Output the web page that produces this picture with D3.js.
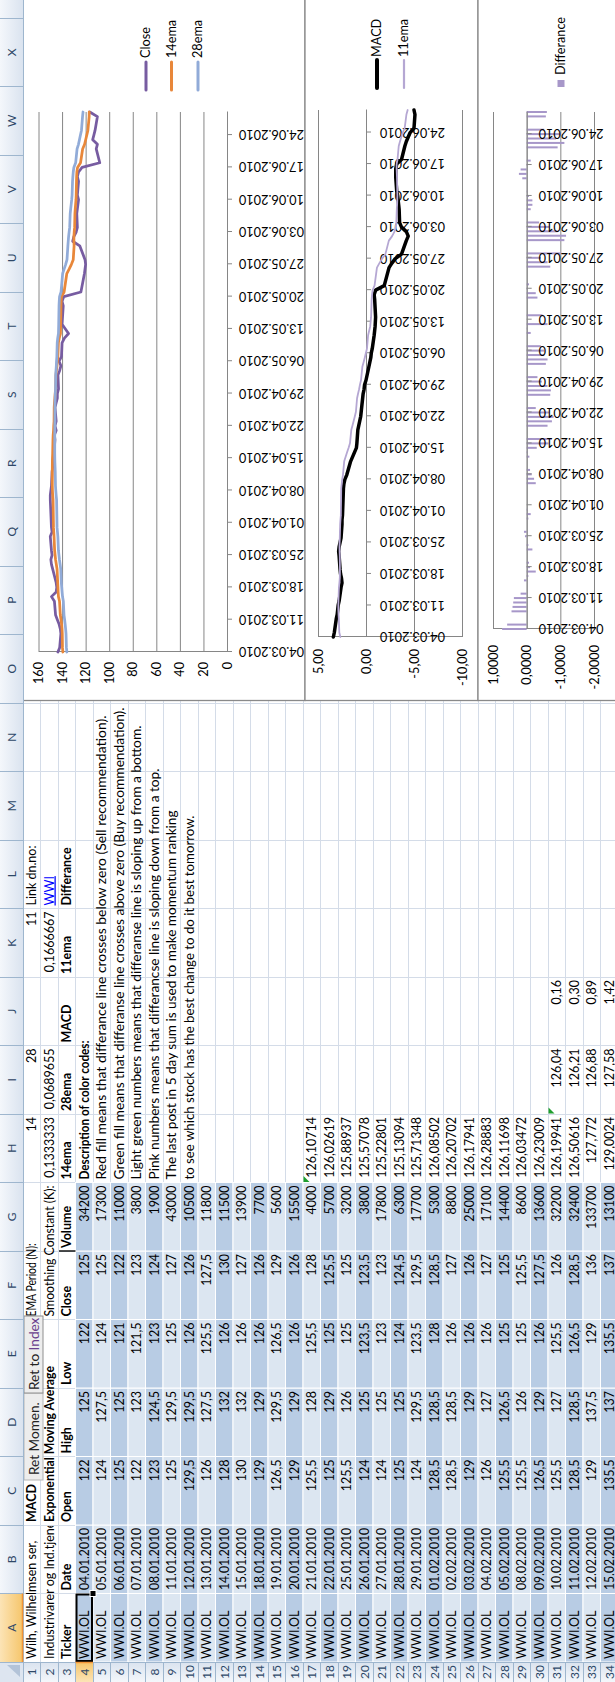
<!DOCTYPE html>
<html>
<head>
<meta charset="utf-8">
<title>WWI.OL – MACD</title>
<script src="https://cdn.jsdelivr.net/npm/d3@7"></script>
<style>
  html, body { margin: 0; padding: 0; background: #fff; }
  svg { display: block; }
  text { font-family: Lato, "Open Sans", "DejaVu Sans", sans-serif; }
</style>
</head>
<body>
<svg id="sheet" width="615" height="1682"></svg>
<script>
// ---------- worksheet contents ----------
const columnLetters = ["A","B","C","D","E","F","G","H","I","J","K","L","M","N","O","P","Q","R","S","T","U","V","W","X"];
const rowNumbers = d3.range(1, 35);
const tickerSymbol = "WWI.OL";
const tableDates = ["04.01.2010","05.01.2010","06.01.2010","07.01.2010","08.01.2010","11.01.2010","12.01.2010","13.01.2010","14.01.2010","15.01.2010","18.01.2010","19.01.2010","20.01.2010","21.01.2010","22.01.2010","25.01.2010","26.01.2010","27.01.2010","28.01.2010","29.01.2010","01.02.2010","02.02.2010","03.02.2010","04.02.2010","05.02.2010","08.02.2010","09.02.2010","10.02.2010","11.02.2010","12.02.2010","15.02.2010"];
const tableOpen   = [122,124,125,122,123,125,129.5,126,128,130,129,126.5,129,125.5,125,125.5,124,124,125,124,128.5,128.5,129,126,125.5,125.5,126.5,125.5,128.5,129,135.5];
const tableHigh   = [125,127.5,125,123,124.5,129.5,129.5,127.5,132,132,129,129.5,129,128,129,126,125,125,125,129.5,128.5,128.5,129,127,126.5,126,129,127,128.5,137.5,137];
const tableLow    = [122,124,121,121.5,123,125,126,125.5,126,126,126,126.5,126,125.5,125,125,123.5,123,124,123.5,128,126,126,126,125,125,126,125.5,126.5,129,135.5];
const tableClose  = [125,125,122,123,124,127,126,127.5,130,127,126,129,126,128,125.5,125,123.5,123,124.5,129.5,128.5,127,126,127,125,125.5,127.5,126,128.5,136,137];
const tableVolume = [34200,17300,11000,3800,1900,43000,10500,11800,11500,13900,7700,5600,15500,4000,5700,3200,3800,17800,6300,17700,5300,8800,25000,17100,14400,8600,13600,32200,32400,133700,13100];
const ema14Cells  = ["126,10714","126,02619","125,88937","125,57078","125,22801","125,13094","125,71348","126,08502","126,20702","126,17941","126,28883","126,11698","126,03472","126,23009","126,19941","126,50616","127,772","129,0024"]; // H17:H34
const ema28Cells  = ["126,04","126,21","126,88","127,58"];   // I31:I34
const macdCells   = ["0,16","0,30","0,89","1,42"];           // J31:J34
const headerLabels = ["Ticker","Date","Open","High","Low","Close","Volume","14ema","28ema","MACD","11ema","Differance"];
const colorCodeNotes = [
  "Red fill means that differance line crosses below zero (Sell recommendation).",
  "Green fill means that differanse line crosses above zero (Buy recommendation).",
  "Light green numbers means that differanse line is sloping up from a bottom.",
  "Pink numbers means that differancse line is sloping down from a top.",
  "The last post in 5 day sum is used to make momentum ranking",
  "to see which stock has the best change to do it best tomorrow."
];

// ---------- chart series (trading days 04.03.2010 – 29.06.2010) ----------
const chartDates = ["04.03.2010","05.03.2010","08.03.2010","09.03.2010","10.03.2010","11.03.2010","12.03.2010","15.03.2010","16.03.2010","17.03.2010","18.03.2010","19.03.2010","22.03.2010","23.03.2010","24.03.2010","25.03.2010","26.03.2010","29.03.2010","30.03.2010","31.03.2010",
  "06.04.2010","07.04.2010","08.04.2010","09.04.2010","12.04.2010","13.04.2010","14.04.2010","15.04.2010","16.04.2010","19.04.2010","20.04.2010","21.04.2010","22.04.2010","23.04.2010","26.04.2010","27.04.2010","28.04.2010","29.04.2010","30.04.2010",
  "03.05.2010","04.05.2010","05.05.2010","06.05.2010","07.05.2010","10.05.2010","11.05.2010","12.05.2010","14.05.2010","18.05.2010","19.05.2010","20.05.2010","21.05.2010","25.05.2010","26.05.2010","27.05.2010","28.05.2010","31.05.2010",
  "01.06.2010","02.06.2010","03.06.2010","04.06.2010","07.06.2010","08.06.2010","09.06.2010","10.06.2010","11.06.2010","14.06.2010","15.06.2010","16.06.2010","17.06.2010","18.06.2010","21.06.2010","22.06.2010","23.06.2010","24.06.2010","25.06.2010","28.06.2010","29.06.2010"];
const closeSeries = [143.5,142,141,141.5,142.5,144,145.5,146.5,149,145,144.5,145,148,149,149.5,148.5,149,150,148.5,149,
  150,150,149.5,149,148.5,148,148,147.5,147,146,146.5,145,146,145,146,145,144,144,143,
  143.5,142,141,142.5,140.5,140,138,134.5,140,139,140,138.5,124,121,120.5,120,120.5,125,
  131,130,128,127,127.5,127,126.5,126,127,126,127,126,123,108,111,110,114,113,112,110,116.5];
const ema14Series = [139.3,139.66,139.84,140.06,140.39,140.87,141.49,142.16,143.07,143.33,143.49,143.69,144.26,144.89,145.5,145.9,146.31,146.8,147.03,147.29,
  147.65,147.96,148.17,148.28,148.31,148.27,148.23,148.13,147.98,147.72,147.56,147.22,147.06,146.79,146.68,146.46,146.13,145.85,145.47,
  145.21,144.78,144.28,144.04,143.57,143.09,142.41,141.36,141.18,140.89,140.77,140.47,138.27,135.97,133.91,132.06,130.52,129.78,
  129.94,129.95,129.69,129.33,129.09,128.81,128.5,128.17,128.01,127.74,127.64,127.42,126.83,124.32,122.54,120.87,119.95,119.02,118.08,117.0,116.93];
const ema28Series = [135.9,136.32,136.64,136.98,137.36,137.82,138.35,138.91,139.61,139.98,140.29,140.62,141.13,141.67,142.21,142.64,143.08,143.56,143.9,144.25,
  144.65,145.02,145.33,145.58,145.78,145.93,146.07,146.17,146.23,146.21,146.23,146.15,146.14,146.06,146.06,145.99,145.85,145.72,145.53,
  145.39,145.16,144.87,144.71,144.42,144.11,143.69,143.06,142.85,142.58,142.4,142.13,140.88,139.51,138.2,136.94,135.81,135.06,
  134.78,134.45,134.0,133.52,133.1,132.68,132.25,131.82,131.49,131.11,130.83,130.5,129.98,128.46,127.26,126.07,125.24,124.4,123.54,122.61,122.19];
const macdSeries = [3.4,3.3,3.1,3.0,2.95,2.9,2.8,2.6,2.5,2.55,2.65,2.7,2.8,2.85,2.8,2.7,2.6,2.5,2.5,2.45,
  2.35,2.3,2.2,2.0,1.6,1.4,1.2,1.0,0.95,0.85,0.75,0.65,0.55,0.5,0.35,0.3,0.2,0.15,0.0,
  -0.3,-0.4,-0.5,-0.55,-0.65,-0.85,-0.9,-0.95,-1.0,-0.9,-0.85,-1.0,-1.9,-2.4,-2.7,-3.05,-3.7,-4.2,
  -4.4,-4.2,-3.7,-3.5,-3.45,-3.4,-3.35,-3.3,-3.2,-3.1,-3.1,-3.1,-3.2,-3.7,-4.05,-4.2,-4.4,-4.6,-5.0,-5.1,-5.0];
const ema11Series = [2.67,2.78,2.83,2.86,2.88,2.88,2.87,2.82,2.77,2.73,2.72,2.72,2.73,2.75,2.76,2.75,2.73,2.69,2.66,2.62,
  2.58,2.53,2.48,2.4,2.27,2.12,1.97,1.81,1.67,1.53,1.4,1.28,1.16,1.05,0.93,0.83,0.72,0.63,0.52,
  0.38,0.25,0.13,0.02,-0.1,-0.22,-0.33,-0.44,-0.53,-0.59,-0.63,-0.69,-0.89,-1.14,-1.4,-1.68,-2.02,-2.38,
  -2.72,-2.97,-3.09,-3.16,-3.21,-3.24,-3.26,-3.27,-3.26,-3.23,-3.21,-3.19,-3.19,-3.28,-3.41,-3.54,-3.68,-3.83,-4.03,-4.21,-4.34];
const diffSeries = [0.73,0.58,0.45,0.42,0.4,0.38,0.18,0.08,-0.05,-0.27,-0.1,-0.07,-0.17,-0.05,0.0,0.05,0.08,-0.05,-0.12,-0.02,
  -0.27,-0.22,-0.15,-0.1,-0.08,-0.03,-0.3,-0.65,-0.75,-0.62,-0.75,-0.8,-0.67,-0.27,-0.7,-0.72,-0.62,-0.45,-0.32,
  -0.57,-0.62,-0.52,-0.52,-0.42,-0.12,-0.02,-0.62,-0.47,-0.32,-0.27,-0.02,-0.07,-0.7,-0.62,-0.42,-1.02,-1.12,
  -1.17,-0.92,-0.67,-0.37,-0.12,-0.17,-0.17,-0.07,-0.02,0.13,0.23,0.18,-0.02,-0.12,-0.92,-1.12,-0.87,-1.02,-0.52,-0.57,-0.6];
const dateTicks = ["04.03.2010","11.03.2010","18.03.2010","25.03.2010","01.04.2010","08.04.2010","15.04.2010","22.04.2010","29.04.2010","06.05.2010","13.05.2010","20.05.2010","27.05.2010","03.06.2010","10.06.2010","17.06.2010","24.06.2010"];
const priceTicks = [0,20,40,60,80,100,120,140,160];
const macdTicks = [-10,-5,0,5];
const diffTicks = [-2,-1,0,1];

// ---------- sheet geometry (landscape window, turned a quarter turn) ----------
const PAGE_H = 1682, SHEET_W = 1682, SHEET_H = 615;
const ROW_HEAD = 20, COL_HEAD = 23, COL_W = 68.5, ROW_H = 17.5;
const CELL_FONT = 12.5;
const colX = i => ROW_HEAD + COL_W * i;
const rowY = r => COL_HEAD + ROW_H * (r - 1);
const comma = v => String(v).replace(".", ",");

const svg = d3.select("#sheet");
const defs = svg.append("defs");
const ws = svg.append("g").attr("transform", `translate(0,${PAGE_H}) rotate(-90)`);

ws.append("rect").attr("width", SHEET_W).attr("height", SHEET_H).attr("fill", "#fff");

// cell gridlines
const grid = ws.append("g").attr("stroke", "#D4DCE8").attr("stroke-width", 1).attr("shape-rendering", "crispEdges");
for (let i = 0; i <= 25; i++) grid.append("line").attr("x1", colX(i)).attr("x2", colX(i)).attr("y1", COL_HEAD).attr("y2", SHEET_H);
for (let r = 1; r <= 36; r++) grid.append("line").attr("x1", ROW_HEAD).attr("x2", SHEET_W).attr("y1", rowY(r)).attr("y2", rowY(r));

// banded price table A4:G34
const band = ws.append("g").attr("stroke", "#fff").attr("stroke-width", 1);
for (let r = 4; r <= 34; r++) {
  for (let c = 0; c < 7; c++) {
    band.append("rect").attr("x", colX(c)).attr("y", rowY(r)).attr("width", COL_W).attr("height", ROW_H)
      .attr("fill", r % 2 === 0 ? "#B8CCE4" : "#DCE6F1");
  }
}
ws.append("line").attr("x1", colX(6)).attr("x2", colX(6)).attr("y1", rowY(3) + 1).attr("y2", rowY(4))
  .attr("stroke", "#000").attr("stroke-width", 1.4);

// cell text
defs.append("clipPath").attr("id", "clipA2").append("rect")
  .attr("x", colX(0)).attr("y", rowY(2)).attr("width", colX(2) - colX(0) - 1).attr("height", ROW_H);
const cells = ws.append("g").attr("font-size", CELL_FONT).attr("fill", "#000");
function put(c, r, txt, o = {}) {
  const right = o.align === "right";
  const t = cells.append("text")
    .attr("x", right ? colX(c + 1) - 3 : colX(c) + 3)
    .attr("y", rowY(r + 1) - 4.5)
    .attr("text-anchor", right ? "end" : "start")
    .text(txt);
  if (o.bold) t.attr("font-weight", "bold");
  if (o.fill) t.attr("fill", o.fill);
  if (o.underline) t.attr("text-decoration", "underline");
  if (o.clip) t.attr("clip-path", `url(#${o.clip})`);
  if (o.fit) t.attr("textLength", o.fit).attr("lengthAdjust", "spacingAndGlyphs");
  return t;
}
const R = { align: "right" };
const dateFit = { align: "right", fit: 62 };
const noteLengths = [464, 472, 454, 411, 369, 364];

put(0, 1, "Wilh, Wilhelmsen ser,");
put(2, 1, "MACD", { bold: true });
put(5, 1, "EMA Period (N):", { fit: 73 });
put(7, 1, "14", R); put(8, 1, "28", R); put(10, 1, "11", R);
put(11, 1, "Link dn.no:");
put(0, 2, "Industrivarer og Ind.tjenester", { clip: "clipA2" });
put(2, 2, "Exponential Moving Average", { bold: true, fit: 156 });
put(5, 2, "Smoothing Constant (K):", { fit: 131 });
put(7, 2, "0,1333333", R); put(8, 2, "0,0689655", R); put(10, 2, "0,1666667", R);
put(11, 2, "WWI", { fill: "#0000FF", underline: true });
headerLabels.forEach((h, c) => put(c, 3, h, { bold: true }));

tableDates.forEach((d, i) => {
  const r = 4 + i;
  put(0, r, tickerSymbol);
  put(1, r, d, dateFit);
  put(2, r, comma(tableOpen[i]), R);
  put(3, r, comma(tableHigh[i]), R);
  put(4, r, comma(tableLow[i]), R);
  put(5, r, comma(tableClose[i]), R);
  put(6, r, tableVolume[i], R);
});
ema14Cells.forEach((v, i) => put(7, 17 + i, v, R));
ema28Cells.forEach((v, i) => put(8, 31 + i, v, R));
macdCells.forEach((v, i) => put(9, 31 + i, v, R));
put(7, 4, "Description of color codes:", { bold: true, fit: 139 });
colorCodeNotes.forEach((n, i) => put(7, 5 + i, n, { fit: noteLengths[i] }));

// small green error markers
[[7, 17], [8, 31]].forEach(([c, r]) => {
  const x = colX(c) + 0.5, y = rowY(r) + 0.5;
  ws.append("path").attr("d", `M${x},${y}h6l-6,6z`).attr("fill", "#1E9E2E");
});

// macro buttons over D1:E1
const btn = ws.append("g");
btn.append("rect").attr("x", 202).attr("y", 24).attr("width", 87).attr("height", 19)
  .attr("fill", "#EDEDED").attr("stroke", "#B5B5B5");
btn.append("text").attr("x", 207).attr("y", 38.5).attr("font-size", 13.6).attr("fill", "#222").text("Ret Momen.");
btn.append("rect").attr("x", 289).attr("y", 24).attr("width", 77).attr("height", 19)
  .attr("fill", "#EDEDED").attr("stroke", "#8E8E8E");
const bt = btn.append("text").attr("x", 292).attr("y", 38.5).attr("font-size", 13.6).attr("fill", "#222");
bt.append("tspan").text("Ret to ");
bt.append("tspan").attr("fill", "#6A3F8E").text("Index");

// active cell A4
ws.append("rect").attr("x", colX(0) + 1).attr("y", rowY(4) + 1).attr("width", COL_W - 2).attr("height", ROW_H - 2)
  .attr("fill", "none").attr("stroke", "#000").attr("stroke-width", 2);
ws.append("rect").attr("x", colX(1) - 3).attr("y", rowY(5) - 3).attr("width", 6).attr("height", 6)
  .attr("fill", "#000").attr("stroke", "#fff").attr("stroke-width", 1);

// ---------- charts ----------
const axisGray = "#868686";
const parseDay = d3.utcParse("%d.%m.%Y");
const fmtDay = d3.utcFormat("%d.%m.%Y");
const days = chartDates.map(parseDay);
const tickDays = dateTicks.map(parseDay);
const dayExtent = d3.extent(days);
const CHART_X0 = 981.5;

function chartFrame(y0, y1) {
  const g = ws.append("g");
  g.append("rect").attr("x", CHART_X0).attr("y", y0).attr("width", SHEET_W - CHART_X0 + 20).attr("height", y1 - y0)
    .attr("fill", "#fff").attr("stroke", "#8A8A8A").attr("stroke-width", 1.3);
  return g;
}

function valueAxis(g, x, y, ticks, fmt, padding) {
  const [x0, x1] = x.range();
  const ax = g.append("g").attr("transform", `translate(${x0},0)`)
    .call(d3.axisLeft(y).tickValues(ticks).tickFormat(fmt).tickSize(-(x1 - x0)).tickSizeOuter(0).tickPadding(padding));
  ax.attr("font-family", null).attr("font-size", 12.7);
  ax.select(".domain").attr("stroke", axisGray);
  ax.selectAll(".tick line").attr("stroke", axisGray);
  ax.selectAll(".tick text").attr("fill", "#000");
}

function dateAxis(g, x, axisY, gap) {
  const ax = g.append("g").attr("transform", `translate(0,${axisY})`)
    .call(d3.axisBottom(x).tickValues(tickDays).tickFormat(fmtDay).tickSize(5).tickSizeOuter(0));
  ax.attr("font-family", null).attr("font-size", 12.7);
  ax.select(".domain").attr("stroke", axisGray);
  ax.selectAll(".tick line").attr("stroke", axisGray);
  ax.selectAll(".tick text").attr("transform", "rotate(-90)")
    .attr("x", -gap).attr("y", 0).attr("dy", "0.35em").attr("text-anchor", "end").attr("fill", "#000");
}

function seriesLine(g, x, y, values, color, width) {
  const line = d3.line().x((d, i) => x(days[i])).y(d => y(d)).curve(d3.curveLinear);
  g.append("path").datum(values).attr("d", line).attr("fill", "none")
    .attr("stroke", color).attr("stroke-width", width).attr("stroke-linejoin", "round").attr("stroke-linecap", "round");
}

function legendLines(g, entries, x0, x1, tx) {
  entries.forEach(e => {
    g.append("line").attr("x1", x0).attr("x2", x1).attr("y1", e.y).attr("y2", e.y)
      .attr("stroke", e.color).attr("stroke-width", e.width).attr("stroke-linecap", "round");
    g.append("text").attr("x", tx).attr("y", e.y).attr("dy", "0.35em").attr("font-size", 12.7).text(e.name);
  });
}

// Close with 14 / 28 day EMA
{
  const g = chartFrame(COL_HEAD, 305);
  const x = d3.scaleUtc().domain(dayExtent).range([1030, 1570]);
  const y = d3.scaleLinear().domain([0, 160]).range([227, 38.5]);
  valueAxis(g, x, y, priceTicks, d3.format("d"), 10);
  dateAxis(g, x, y(0), 12);
  seriesLine(g, x, y, closeSeries, "#775CA1", 2.75);
  seriesLine(g, x, y, ema14Series, "#E8873A", 2.75);
  seriesLine(g, x, y, ema28Series, "#91ABD8", 2.75);
  legendLines(g, [
    { name: "Close", color: "#775CA1", width: 3, y: 146 },
    { name: "14ema", color: "#E8873A", width: 3, y: 171.5 },
    { name: "28ema", color: "#91ABD8", width: 3, y: 198 }
  ], 1592, 1620, 1624);
}

// MACD with 11 day signal
{
  const g = chartFrame(305, 478);
  const x = d3.scaleUtc().domain(dayExtent).range([1045, 1572]);
  const y = d3.scaleLinear().domain([-10, 5]).range([462, 318]);
  valueAxis(g, x, y, macdTicks, v => d3.format(".2f")(v).replace(".", ",").replace("−", "-"), 12);
  dateAxis(g, x, y(0), 14);
  seriesLine(g, x, y, macdSeries, "#000", 3.5);
  seriesLine(g, x, y, ema11Series, "#B5A7D3", 1.8);
  legendLines(g, [
    { name: "MACD", color: "#000", width: 4, y: 377 },
    { name: "11ema", color: "#B5A7D3", width: 2.2, y: 404 }
  ], 1594, 1622, 1625);
}

// Differance bars
{
  const g = chartFrame(478, 660);
  const x = d3.scaleUtc().domain(dayExtent).range([1053, 1570]);
  const y = d3.scaleLinear().domain([-2, 1]).range([594, 493]);
  valueAxis(g, x, y, diffTicks, v => d3.format(".4f")(v).replace(".", ",").replace("−", "-"), 16);
  g.append("g").selectAll("rect").data(diffSeries).join("rect")
    .attr("x", (d, i) => x(days[i]) - 1)
    .attr("width", 2)
    .attr("y", d => Math.min(y(d), y(0)))
    .attr("height", d => Math.abs(y(d) - y(0)))
    .attr("fill", "#A797C9");
  dateAxis(g, x, y(0), 12);
  g.append("rect").attr("x", 1595).attr("y", 557.5).attr("width", 7).attr("height", 7).attr("fill", "#A797C9");
  g.append("text").attr("x", 1607).attr("y", 561).attr("dy", "0.35em").attr("font-size", 12.7).text("Differance");
}

// ---------- column and row headers ----------
const hg = defs.append("linearGradient").attr("id", "colHead").attr("x1", 0).attr("y1", 0).attr("x2", 0).attr("y2", 1);
hg.append("stop").attr("offset", 0).attr("stop-color", "#F4F7FB");
hg.append("stop").attr("offset", 1).attr("stop-color", "#DAE3EF");
const rg = defs.append("linearGradient").attr("id", "rowHead").attr("x1", 0).attr("y1", 0).attr("x2", 1).attr("y2", 0);
rg.append("stop").attr("offset", 0).attr("stop-color", "#F4F7FB");
rg.append("stop").attr("offset", 1).attr("stop-color", "#DAE3EF");
const og = defs.append("linearGradient").attr("id", "activeHead").attr("x1", 0).attr("y1", 0).attr("x2", 0).attr("y2", 1);
og.append("stop").attr("offset", 0).attr("stop-color", "#FCE4B6");
og.append("stop").attr("offset", 1).attr("stop-color", "#F5C56A");
const og2 = defs.append("linearGradient").attr("id", "activeRow").attr("x1", 0).attr("y1", 0).attr("x2", 1).attr("y2", 0);
og2.append("stop").attr("offset", 0).attr("stop-color", "#FCE4B6");
og2.append("stop").attr("offset", 1).attr("stop-color", "#F5C56A");

const heads = ws.append("g");
heads.append("rect").attr("x", ROW_HEAD).attr("y", 0).attr("width", SHEET_W - ROW_HEAD).attr("height", COL_HEAD).attr("fill", "url(#colHead)");
heads.append("rect").attr("x", colX(0)).attr("y", 0).attr("width", COL_W).attr("height", COL_HEAD).attr("fill", "url(#activeHead)");
heads.append("rect").attr("x", 0).attr("y", COL_HEAD).attr("width", ROW_HEAD).attr("height", SHEET_H - COL_HEAD).attr("fill", "url(#rowHead)");
heads.append("rect").attr("x", 0).attr("y", rowY(4)).attr("width", ROW_HEAD).attr("height", ROW_H).attr("fill", "url(#activeRow)");
heads.append("rect").attr("x", 0).attr("y", 0).attr("width", ROW_HEAD).attr("height", COL_HEAD).attr("fill", "#DDE5F0");
heads.append("path").attr("d", "M17,7V20H5Z").attr("fill", "#B3C3D8");

const hl = heads.append("g").attr("stroke", "#9EB6CE").attr("stroke-width", 1).attr("shape-rendering", "crispEdges");
for (let i = 0; i <= 24; i++) hl.append("line").attr("x1", colX(i)).attr("x2", colX(i)).attr("y1", 0).attr("y2", COL_HEAD);
hl.append("line").attr("x1", 0).attr("x2", SHEET_W).attr("y1", COL_HEAD).attr("y2", COL_HEAD);
for (let r = 1; r <= 36; r++) hl.append("line").attr("x1", 0).attr("x2", ROW_HEAD).attr("y1", rowY(r)).attr("y2", rowY(r));
hl.append("line").attr("x1", ROW_HEAD).attr("x2", ROW_HEAD).attr("y1", 0).attr("y2", SHEET_H);
heads.append("line").attr("x1", colX(0)).attr("x2", colX(1)).attr("y1", COL_HEAD - 0.5).attr("y2", COL_HEAD - 0.5).attr("stroke", "#F29436").attr("stroke-width", 1.5);
heads.append("line").attr("x1", ROW_HEAD - 0.5).attr("x2", ROW_HEAD - 0.5).attr("y1", rowY(4)).attr("y2", rowY(5)).attr("stroke", "#F29436").attr("stroke-width", 1.5);

const ht = heads.append("g").attr("font-size", 12).attr("fill", "#2E4868").attr("text-anchor", "middle");
columnLetters.forEach((L, i) => ht.append("text").attr("x", colX(i) + COL_W / 2).attr("y", 16).text(L));
rowNumbers.forEach(r => ht.append("text").attr("x", ROW_HEAD / 2).attr("y", rowY(r + 1) - 4.5).text(r));
</script>
</body>
</html>
